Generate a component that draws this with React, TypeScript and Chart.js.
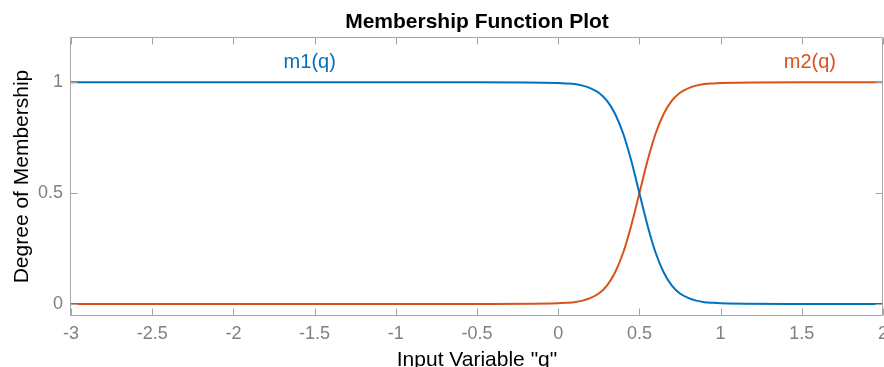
import React, { useEffect, useRef } from 'react';
import { Chart, registerables } from 'chart.js';

Chart.register(...registerables);

// Data
const qValues = [-3, -2, -1, -0.5, 0, 0.05, 0.1, 0.15, 0.2, 0.25, 0.3, 0.35, 0.4, 0.45, 0.5, 0.55, 0.6, 0.65, 0.7, 0.75, 0.8, 0.85, 0.9, 0.95, 1, 1.5, 2];
const m1Values = [1, 1, 1, 1, 0.997, 0.995, 0.992, 0.985, 0.973, 0.953, 0.917, 0.858, 0.769, 0.646, 0.5, 0.354, 0.231, 0.142, 0.083, 0.047, 0.027, 0.015, 0.008, 0.005, 0.003, 0, 0];
const m2Values = [0, 0, 0, 0, 0.003, 0.005, 0.008, 0.015, 0.027, 0.047, 0.083, 0.142, 0.231, 0.354, 0.5, 0.646, 0.769, 0.858, 0.917, 0.953, 0.973, 0.985, 0.992, 0.995, 0.997, 1, 1];
const xTicks = [-3, -2.5, -2, -1.5, -1, -0.5, 0, 0.5, 1, 1.5, 2];
const yTicks = [0, 0.5, 1];
const mfLabels = ['m1(q)', 'm2(q)'];
const mfLabelX = [-1.53, 1.55];
const mfLabelY = [1.09, 1.09];

const titleText = 'Membership Function Plot';
const xTitle = 'Input Variable "q"';
const yTitle = 'Degree of Membership';

const BLUE = '#0072BD';
const ORANGE = '#D95319';
const BOX = '#a6a6a6';
const TICKLABEL = '#808080';
const FONT = '"Liberation Sans", Arial, Helvetica, sans-serif';

const decorPlugin = {
  id: 'decor',
  afterDatasetsDraw(chart: any) {
    const ctx = chart.ctx;
    const { left, right, top, bottom } = chart.chartArea;
    const xs = chart.scales.x;
    const ys = chart.scales.y;
    ctx.save();
    ctx.strokeStyle = BOX;
    ctx.lineWidth = 1;
    const l = Math.round(left) - 0.5;
    const r = Math.round(right) - 0.5;
    const t = Math.round(top) - 0.5;
    const b = Math.round(bottom) + 0.5;
    ctx.beginPath();
    ctx.rect(l, t, r - l, b - t);
    ctx.stroke();
    const TL = 7;
    ctx.beginPath();
    xTicks.forEach((v) => {
      const px = Math.round(xs.getPixelForValue(v)) + 0.5;
      ctx.moveTo(px, b);
      ctx.lineTo(px, b - TL);
      ctx.moveTo(px, t);
      ctx.lineTo(px, t + TL);
    });
    yTicks.forEach((v) => {
      const py = Math.round(ys.getPixelForValue(v)) + 0.5;
      ctx.moveTo(l, py);
      ctx.lineTo(l + TL, py);
      ctx.moveTo(r, py);
      ctx.lineTo(r - TL, py);
    });
    ctx.stroke();

    // MF labels
    ctx.font = `20px ${FONT}`;
    ctx.textAlign = 'center';
    ctx.textBaseline = 'middle';
    const colors = [BLUE, ORANGE];
    mfLabels.forEach((txt, i) => {
      ctx.fillStyle = colors[i];
      ctx.fillText(txt, xs.getPixelForValue(mfLabelX[i]), ys.getPixelForValue(mfLabelY[i]));
    });

    // Title
    ctx.fillStyle = '#000';
    ctx.font = `bold 21px ${FONT}`;
    ctx.fillText(titleText, (left + right) / 2, 22);

    // X title
    ctx.font = `21px ${FONT}`;
    ctx.fillStyle = '#000';
    ctx.fillText(xTitle, (left + right) / 2, 360);

    // Y title
    ctx.save();
    ctx.translate(22, (top + bottom) / 2);
    ctx.rotate(-Math.PI / 2);
    ctx.fillText(yTitle, 0, 0);
    ctx.restore();

    ctx.restore();
  },
};

export default function App() {
  const ref = useRef<HTMLCanvasElement | null>(null);

  useEffect(() => {
    document.body.style.margin = '0';
    if (!ref.current) return;
    const chart = new Chart(ref.current, {
      type: 'line',
      data: {
        datasets: [
          {
            label: mfLabels[0],
            data: qValues.map((q, i) => ({ x: q, y: m1Values[i] })),
            borderColor: BLUE,
            borderWidth: 2,
            pointRadius: 0,
            cubicInterpolationMode: 'monotone',
            fill: false,
          },
          {
            label: mfLabels[1],
            data: qValues.map((q, i) => ({ x: q, y: m2Values[i] })),
            borderColor: ORANGE,
            borderWidth: 2,
            pointRadius: 0,
            cubicInterpolationMode: 'monotone',
            fill: false,
          },
        ],
      },
      options: {
        animation: false,
        responsive: false,
        maintainAspectRatio: false,
        layout: { padding: { top: 38, right: 1, left: 0, bottom: 0 } },
        plugins: {
          legend: { display: false },
          title: { display: false },
          tooltip: { enabled: false },
        },
        scales: {
          x: {
            type: 'linear',
            min: -3,
            max: 2,
            grid: { display: false, drawTicks: false },
            border: { display: false },
            ticks: {
              color: TICKLABEL,
              font: { size: 18, family: FONT },
              padding: 8,
              maxRotation: 0,
              autoSkip: false,
              callback: (v: any) => String(v),
            },
            afterBuildTicks: (s: any) => {
              s.ticks = xTicks.map((v) => ({ value: v }));
            },
            afterFit: (s: any) => {
              s.height = 52;
              s.paddingLeft = 0;
              s.paddingRight = 0;
            },
          },
          y: {
            type: 'linear',
            min: -0.05,
            max: 1.2,
            grid: { display: false, drawTicks: false },
            border: { display: false },
            ticks: {
              color: TICKLABEL,
              font: { size: 18, family: FONT },
              padding: 8,
              callback: (v: any) => String(v),
            },
            afterBuildTicks: (s: any) => {
              s.ticks = yTicks.map((v) => ({ value: v }));
            },
            afterFit: (s: any) => {
              s.width = 71;
              s.paddingTop = 0;
              s.paddingBottom = 0;
            },
          },
        },
      } as any,
      plugins: [decorPlugin],
    });
    return () => chart.destroy();
  }, []);

  return (
    <div style={{ position: 'absolute', left: 0, top: 0, width: 884, height: 367 }}>
      <canvas ref={ref} width={884} height={367} style={{ display: 'block', width: 884, height: 367 }} />
    </div>
  );
}
